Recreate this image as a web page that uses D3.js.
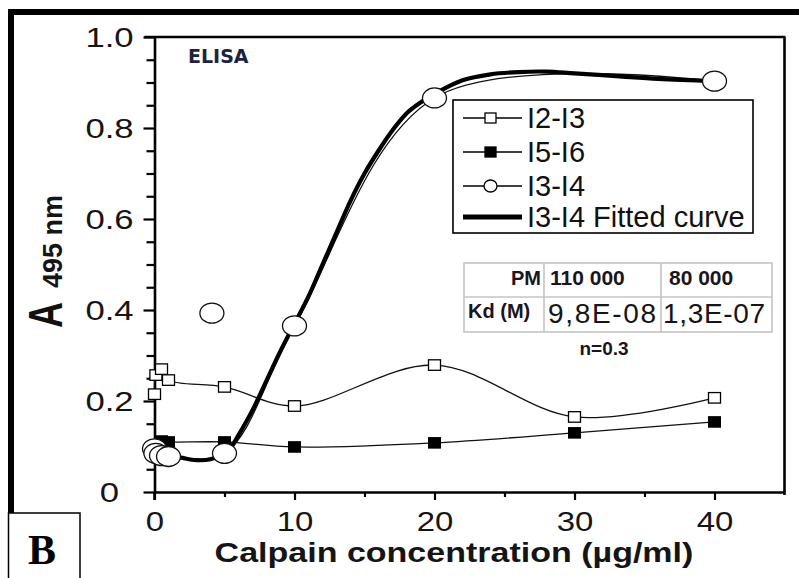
<!DOCTYPE html>
<html><head><meta charset="utf-8">
<script src="https://cdn.jsdelivr.net/npm/d3@7"></script>
<style>
html,body{margin:0;padding:0;background:#fff;}
svg{display:block;}
text{font-family:"Liberation Sans",Arial,sans-serif;}
</style></head>
<body>
<svg id="chart" width="799" height="578"></svg>
<script>
// ---- data ----
const xMajorTicks = [0, 10, 20, 30, 40];
const xMinorTicks = [5, 15, 25, 35];
const yMajorTicks = [0, 0.2, 0.4, 0.6, 0.8, 1.0];
const yMinorTicks = [0.05,0.1,0.15,0.25,0.3,0.35,0.45,0.5,0.55,0.65,0.7,0.75,0.85,0.9,0.95];

const i2i3X = [0, 0.1, 0.5, 1, 5, 10, 20, 30, 40];
const i2i3Y = [0.215, 0.257, 0.27, 0.246, 0.231, 0.189, 0.279, 0.165, 0.207];

const i5i6X = [0, 0.5, 1, 5, 10, 20, 30, 40];
const i5i6Y = [0.1, 0.112, 0.11, 0.11, 0.099, 0.108, 0.13, 0.154];

const i3i4X = [0, 0.1, 0.5, 1, 5, 10, 20, 40];
const i3i4Y = [0.095, 0.085, 0.08, 0.078, 0.085, 0.365, 0.866, 0.903];
const i3i4ExtraX = [4.1];
const i3i4ExtraY = [0.393];

const fitX = [0, 0.5, 1, 2, 3, 4, 5, 5.5, 6, 7, 8, 9, 10, 11, 12, 13, 14, 15, 16, 17, 18, 19, 20, 22, 24, 26, 28, 30, 33, 36, 40];
const fitY = [0.09, 0.085, 0.082, 0.075, 0.07, 0.072, 0.085, 0.1, 0.125, 0.18, 0.245, 0.31, 0.37, 0.43, 0.5, 0.57, 0.64, 0.7, 0.75, 0.795, 0.832, 0.856, 0.875, 0.905, 0.918, 0.923, 0.924, 0.92, 0.914, 0.908, 0.903];

const legendLabels = ["I2-I3", "I5-I6", "I3-I4", "I3-I4 Fitted curve"];
const tableRow1 = ["PM", "110 000", "80 000"];
const tableRow2 = ["Kd (M)", "9,8E-08", "1,3E-07"];
const noteText = "n=0.3";

// ---- drawing ----
const svg = d3.select("#chart");
const x = d3.scaleLinear().domain([0, 45]).range([154.5, 784.5]);
const y = d3.scaleLinear().domain([0, 1]).range([492, 37]);
const AX = 2.6;

// outer frame pieces
svg.append("rect").attr("x", 8).attr("y", 9).attr("width", 791).attr("height", 6).attr("fill", "#000");
svg.append("rect").attr("x", 8).attr("y", 9).attr("width", 6).attr("height", 504).attr("fill", "#000");
svg.append("rect").attr("x", 8.5).attr("y", 513).attr("width", 71.5).attr("height", 70)
  .attr("fill", "#fff").attr("stroke", "#000").attr("stroke-width", 1.5);
svg.append("text").attr("x", 42).attr("y", 564).attr("text-anchor", "middle")
  .style("font-family", "'Liberation Serif','Times New Roman',serif").style("font-weight", "bold")
  .style("font-size", "42px").attr("fill", "#000").text("B");

// plot frame top/right
svg.append("line").attr("x1", x(0) - 10).attr("x2", x(45) + 1).attr("y1", y(1)).attr("y2", y(1))
  .attr("stroke", "#000").attr("stroke-width", AX);
svg.append("line").attr("x1", x(45)).attr("x2", x(45)).attr("y1", y(1)).attr("y2", y(0) + 3)
  .attr("stroke", "#000").attr("stroke-width", AX);

// y axis
const gy = svg.append("g").attr("transform", `translate(${x(0)},0)`);
gy.call(d3.axisLeft(y).tickValues(yMinorTicks).tickSize(8).tickSizeOuter(0).tickFormat(""));
gy.call(g => g.select(".domain").remove());
const gyM = svg.append("g").attr("transform", `translate(${x(0)},0)`);
gyM.call(d3.axisLeft(y).tickValues(yMajorTicks).tickSize(11).tickSizeOuter(0).tickFormat(d => d === 0 ? "0" : d3.format(".1f")(d)));
[gy, gyM].forEach(g => g.selectAll("line").attr("stroke", "#000").attr("stroke-width", 2.2));
gyM.select(".domain").attr("stroke", "#000").attr("stroke-width", AX);
gyM.selectAll("text").attr("fill", "#151515").style("font-size", "28px")
  .attr("text-anchor", "middle").attr("x", 0).attr("dy", "0.35em")
  .attr("transform", "translate(-45,0) scale(1.24,1)");
svg.append("line").attr("x1", x(0)).attr("x2", x(0)).attr("y1", y(0)).attr("y2", y(0) + 8)
  .attr("stroke", "#000").attr("stroke-width", AX);

// x axis
const gx = svg.append("g").attr("transform", `translate(0,${y(0)})`);
gx.call(d3.axisBottom(x).tickValues(xMinorTicks).tickSize(5).tickSizeOuter(0).tickFormat(""));
gx.call(g => g.select(".domain").remove());
const gxM = svg.append("g").attr("transform", `translate(0,${y(0)})`);
gxM.call(d3.axisBottom(x).tickValues(xMajorTicks).tickSize(8).tickSizeOuter(0));
[gx, gxM].forEach(g => g.selectAll("line").attr("stroke", "#000").attr("stroke-width", 2.2));
gxM.select(".domain").attr("stroke", "#000").attr("stroke-width", AX);
gxM.selectAll("text").attr("fill", "#151515").style("font-size", "27px")
  .attr("y", 0).attr("dy", 0).attr("transform", "translate(0,39) scale(1.22,1)");

// axis titles
svg.append("text").attr("transform", "translate(454,562) scale(1.26,1)").attr("text-anchor", "middle")
  .style("font-size", "27px").style("font-weight", "bold").attr("fill", "#151515")
  .text("Calpain concentration (\u00b5g/ml)");
svg.append("text").attr("transform", "translate(62,328) rotate(-90) scale(1,1.35)")
  .style("font-size", "36px").style("font-weight", "bold").attr("fill", "#111").text("A");
svg.append("text").attr("transform", "translate(62,288) rotate(-90)")
  .style("font-size", "27px").style("font-weight", "bold").attr("fill", "#151515").text("495 nm");

// ELISA
svg.append("text").attr("x", 188).attr("y", 63).style("font-family", "'DejaVu Sans',sans-serif")
  .style("font-weight", "bold").style("font-size", "19px").attr("fill", "#1c2340").text("ELISA");

// lines
const zip = (xs, ys) => xs.map((v, i) => [v, ys[i]]);
const line = d3.line().x(d => x(d[0])).y(d => y(d[1])).curve(d3.curveCatmullRom.alpha(0.5));
svg.append("path").attr("d", line(zip(i2i3X, i2i3Y))).attr("fill", "none").attr("stroke", "#111").attr("stroke-width", 1.3);
svg.append("path").attr("d", line(zip(i5i6X, i5i6Y))).attr("fill", "none").attr("stroke", "#111").attr("stroke-width", 1.3);
svg.append("path").attr("d", line(zip(i3i4X, i3i4Y))).attr("fill", "none").attr("stroke", "#111").attr("stroke-width", 1.3);
svg.append("path").attr("d", line(zip(fitX, fitY))).attr("fill", "none").attr("stroke", "#000").attr("stroke-width", 4.2);

// markers
const sqW = 12, sqH = 10.5;
svg.append("g").selectAll("rect").data(zip(i2i3X, i2i3Y)).join("rect")
  .attr("x", d => x(d[0]) - sqW / 2).attr("y", d => y(d[1]) - sqH / 2).attr("width", sqW).attr("height", sqH)
  .attr("fill", "#fff").attr("stroke", "#000").attr("stroke-width", 1.3);
svg.append("g").selectAll("rect").data(zip(i5i6X, i5i6Y)).join("rect")
  .attr("x", d => x(d[0]) - sqW / 2).attr("y", d => y(d[1]) - sqH / 2).attr("width", sqW).attr("height", sqH)
  .attr("fill", "#000").attr("stroke", "#000").attr("stroke-width", 1);
svg.append("g").selectAll("ellipse").data(zip(i3i4X, i3i4Y).concat(zip(i3i4ExtraX, i3i4ExtraY))).join("ellipse")
  .attr("cx", d => x(d[0])).attr("cy", d => y(d[1])).attr("rx", 12).attr("ry", 10)
  .attr("fill", "#fff").attr("stroke", "#111").attr("stroke-width", 1.3);

// legend
const lg = svg.append("g");
lg.append("rect").attr("x", 453).attr("y", 100).attr("width", 300).attr("height", 133)
  .attr("fill", "#fff").attr("stroke", "#000").attr("stroke-width", 1.6);
const rowsY = [118, 152, 186, 217];
legendLabels.forEach((lab, i) => {
  const cy = rowsY[i];
  lg.append("line").attr("x1", 463).attr("x2", 522).attr("y1", cy).attr("y2", cy)
    .attr("stroke", "#000").attr("stroke-width", i === 3 ? 5 : 1.3);
  if (i === 0 || i === 1) {
    lg.append("rect").attr("x", 485).attr("y", cy - 5).attr("width", 11).attr("height", 10)
      .attr("fill", i === 0 ? "#fff" : "#000").attr("stroke", "#000").attr("stroke-width", 1.3);
  } else if (i === 2) {
    lg.append("ellipse").attr("cx", 490.5).attr("cy", cy).attr("rx", 6.5).attr("ry", 6)
      .attr("fill", "#fff").attr("stroke", "#000").attr("stroke-width", 1.3);
  }
  lg.append("text").attr("x", 527).attr("y", cy + 10).style("font-size", "29px").attr("fill", "#111").text(lab);
});

// table
const tb = svg.append("g");
const colX = [464, 544, 661, 772];
const rowYs = [263, 297, 332];
tb.append("rect").attr("x", colX[0]).attr("y", rowYs[0]).attr("width", colX[3] - colX[0]).attr("height", rowYs[2] - rowYs[0])
  .attr("fill", "#fff").attr("stroke", "#c4c4c4").attr("stroke-width", 1.6);
tb.append("line").attr("x1", colX[0]).attr("x2", colX[3]).attr("y1", rowYs[1]).attr("y2", rowYs[1]).attr("stroke", "#c4c4c4").attr("stroke-width", 1.6);
[colX[1], colX[2]].forEach(cx => tb.append("line").attr("x1", cx).attr("x2", cx).attr("y1", rowYs[0]).attr("y2", rowYs[2]).attr("stroke", "#c4c4c4").attr("stroke-width", 1.6));
tb.append("text").attr("x", 541).attr("y", 285).attr("text-anchor", "end").style("font-size", "20px").style("font-weight", "bold").attr("fill", "#1a1520").text(tableRow1[0]);
tb.append("text").attr("x", 550).attr("y", 285).style("font-size", "21px").style("font-weight", "bold").attr("fill", "#1a1520").text(tableRow1[1]);
tb.append("text").attr("x", 669).attr("y", 285).style("font-size", "21px").style("font-weight", "bold").attr("fill", "#1a1520").text(tableRow1[2]);
tb.append("text").attr("x", 468).attr("y", 318).style("font-size", "20px").style("font-weight", "bold").attr("fill", "#1a1520").text(tableRow2[0]);
tb.append("text").attr("x", 548).attr("y", 323).attr("textLength", 108).style("font-size", "28px").attr("fill", "#151515").text(tableRow2[1]);
tb.append("text").attr("x", 663).attr("y", 323).attr("textLength", 102).style("font-size", "28px").attr("fill", "#151515").text(tableRow2[2]);
tb.append("text").attr("x", 604).attr("y", 355).attr("text-anchor", "middle").style("font-size", "19px").style("font-weight", "bold").attr("fill", "#1a1520").text(noteText);
</script>
</body></html>
